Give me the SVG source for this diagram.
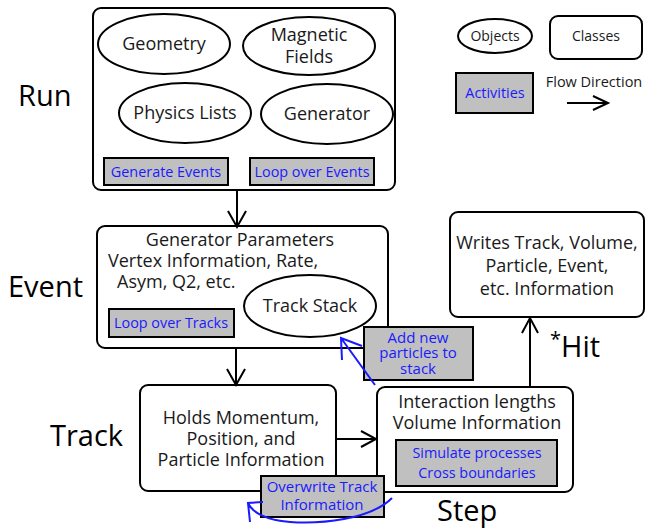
<svg xmlns="http://www.w3.org/2000/svg" width="645" height="528" viewBox="0 0 645 528">
  <defs>
    <style>
      .cls { fill: #ffffff; stroke: #000000; stroke-width: 2; }
      .obj { fill: #ffffff; stroke: #000000; stroke-width: 2; }
      .act { fill: #c0c0c0; stroke: #000000; stroke-width: 2; }
      .t { font-family: "Open Sans", "DejaVu Sans", sans-serif; fill: #1a1a1a; text-anchor: middle; }
      .m { font-size: 18px; }
      .a { font-size: 14.4px; fill: #1a1aff; }
      .s { font-size: 15px; fill: #1a1aff; }
      .big { font-family: "Open Sans", "DejaVu Sans", sans-serif; font-size: 29px; fill: #000000; }
      .flow { fill: none; stroke: #000000; stroke-width: 2; }
      .blue { fill: none; stroke: #1a1aff; stroke-width: 2; }
    </style>
  </defs>

  <rect width="645" height="528" fill="#ffffff"/>

  <!-- stage labels -->
  <text class="big" x="18" y="106">Run</text>
  <text class="big" x="8" y="297">Event</text>
  <text class="big" x="50" y="446">Track</text>
  <text class="big" x="437" y="521">Step</text>
  <text class="big" x="561" y="357">Hit</text>
  <text class="big" x="550" y="346" style="font-size:20px">*</text>

  <!-- legend -->
  <g id="legend">
    <ellipse class="obj" cx="495" cy="36" rx="37" ry="17"/>
    <text class="t" x="495" y="41" style="font-size:14px">Objects</text>
    <rect class="cls" x="550" y="16" width="92" height="43" rx="8"/>
    <text class="t" x="596" y="41" style="font-size:14px">Classes</text>
    <rect class="act" x="456" y="73" width="77" height="40"/>
    <text class="t a" x="495" y="98">Activities</text>
    <text class="t" x="594" y="87" style="font-size:14.5px">Flow Direction</text>
    <path class="flow" d="M567,103 H608 M593,96 L608,103 L593,110"/>
  </g>

  <!-- Run -->
  <g id="run">
    <rect class="cls" x="93" y="8" width="302" height="182" rx="8"/>
    <ellipse class="obj" cx="164" cy="44" rx="66" ry="30"/>
    <text class="t m" x="164" y="50">Geometry</text>
    <ellipse class="obj" cx="309" cy="46" rx="66" ry="29"/>
    <text class="t m" x="309" y="41">Magnetic</text>
    <text class="t m" x="309" y="63">Fields</text>
    <ellipse class="obj" cx="185" cy="113" rx="66" ry="30"/>
    <text class="t m" x="185" y="119">Physics Lists</text>
    <ellipse class="obj" cx="327" cy="114" rx="66" ry="30"/>
    <text class="t m" x="327" y="120">Generator</text>
    <rect class="act" x="104" y="158" width="124" height="27"/>
    <text class="t a" x="166" y="177">Generate Events</text>
    <rect class="act" x="250" y="158" width="124" height="27"/>
    <text class="t a" x="312" y="177">Loop over Events</text>
  </g>

  <!-- Event -->
  <g id="event">
    <rect class="cls" x="97" y="226" width="291" height="122" rx="8"/>
    <text class="t m" x="240" y="246">Generator Parameters</text>
    <text class="t m" x="108" y="267" style="text-anchor:start">Vertex Information, Rate,</text>
    <text class="t m" x="117" y="288" style="text-anchor:start">Asym, Q2, etc.</text>
    <ellipse class="obj" cx="310" cy="306" rx="66" ry="31"/>
    <text class="t m" x="310" y="312">Track Stack</text>
    <rect class="act" x="109" y="309" width="125" height="28"/>
    <text class="t a" x="171" y="328">Loop over Tracks</text>
  </g>

  <!-- Track -->
  <g id="track">
    <rect class="cls" x="140" y="385" width="196" height="106" rx="8"/>
    <text class="t m" x="241" y="424">Holds Momentum,</text>
    <text class="t m" x="241" y="445">Position, and</text>
    <text class="t m" x="241" y="466">Particle Information</text>
  </g>

  <!-- Step -->
  <g id="step">
    <rect class="cls" x="377" y="387" width="196" height="105" rx="8"/>
    <text class="t m" x="477" y="408">Interaction lengths</text>
    <text class="t m" x="477" y="429">Volume Information</text>
    <rect class="act" x="396" y="440" width="161" height="46"/>
    <text class="t a" x="477" y="458">Simulate processes</text>
    <text class="t a" x="477" y="478">Cross boundaries</text>
  </g>

  <!-- Hit -->
  <g id="hit">
    <rect class="cls" x="450" y="212" width="194" height="105" rx="8"/>
    <text class="t m" x="547" y="249">Writes Track, Volume,</text>
    <text class="t m" x="547" y="272">Particle, Event,</text>
    <text class="t m" x="547" y="295">etc. Information</text>
  </g>

  <!-- connectors -->
  <g id="connectors">
    <path class="flow" d="M237,190 V227 M228,211 L237,227 L246,211"/>
    <path class="flow" d="M236,348 V385 M227,369 L236,385 L245,369"/>
    <path class="flow" d="M336,439 H376 M361,431 L376,439 L361,447"/>
    <path class="flow" d="M530,387 V318 M522,333 L530,318 L538,333"/>
  </g>

  <!-- activity feedback boxes -->
  <g id="add-particles">
    <rect class="act" x="364" y="327" width="109" height="53"/>
    <text class="t s" x="418" y="343">Add new</text>
    <text class="t s" x="418" y="358">particles to</text>
    <text class="t s" x="418" y="374">stack</text>
    <path class="blue" d="M375,385 L341,338 M362,346 L341,338 L342,360"/>
  </g>
  <g id="overwrite-track">
    <rect class="act" x="261" y="476" width="123" height="41"/>
    <text class="t s" x="322" y="492">Overwrite Track</text>
    <text class="t s" x="322" y="510">Information</text>
    <path class="blue" d="M392,498 C370,520 320,524 290,522 C265,520 252,512 248,503 M263,502 L248,503 L250,522"/>
  </g>
</svg>
